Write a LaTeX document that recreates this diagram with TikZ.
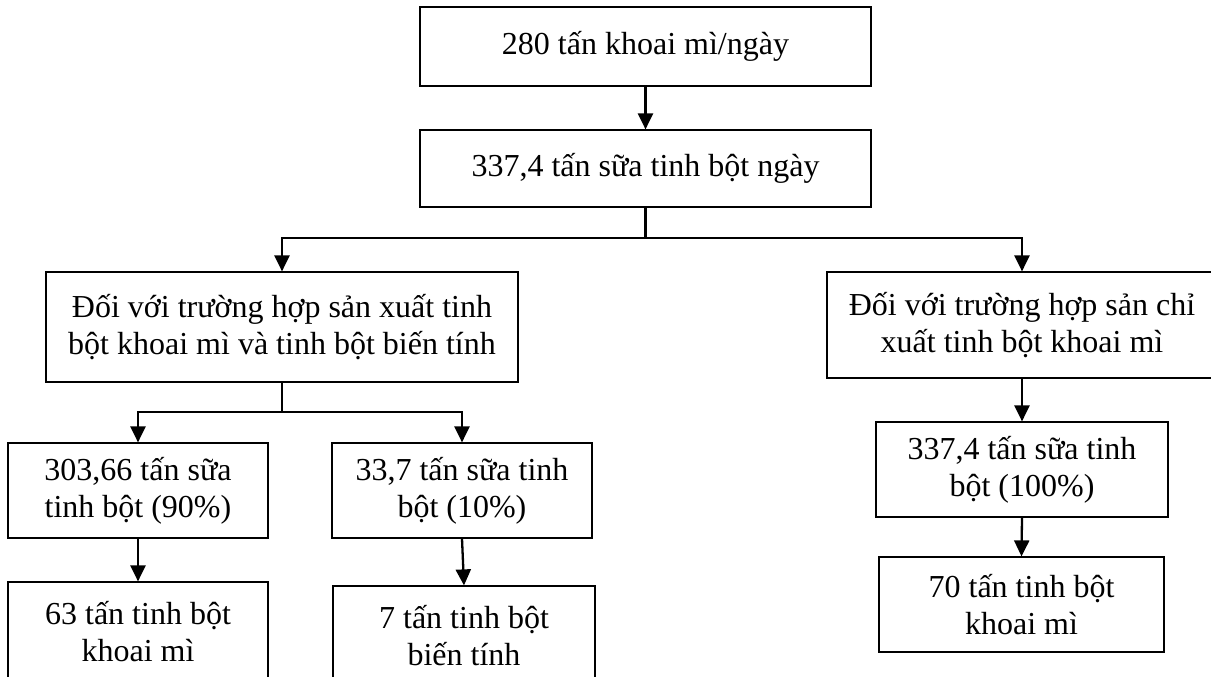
\documentclass[tikz,border=0pt]{standalone}
\usepackage{fontspec}
\setmainfont{Liberation Serif}
\usetikzlibrary{arrows.meta}
\tikzset{
  box/.style={draw=black, line width=1.2pt, rectangle, inner sep=0pt,
    align=center, font=\fontsize{32}{37}\selectfont, text=black},
  conn/.style={draw=black, line width=2.3pt},
  arr/.style={conn, -{Triangle[width=15pt,length=16pt]}},
}
\begin{document}
\begin{tikzpicture}[x=1pt, y=-1pt]
  \useasboundingbox (0,0) rectangle (1211,677);
  \fill[white] (0,0) rectangle (1211,677);
  \clip (0,0) rectangle (1211,677);

  % top chain
  \node[box, minimum width=451pt, minimum height=79pt] (b1) at (645.5,46.5) {280 tấn khoai mì/ngày};
  \node[box, minimum width=451pt, minimum height=77pt] (b2) at (645.5,168.5) {337,4 tấn sữa tinh bột ngày};

  % two production cases
  \node[box, minimum width=472pt, minimum height=110pt] (L) at (282,327)
    {Đối với trường hợp sản xuất tinh\\bột khoai mì và tinh bột biến tính};
  \node[box, minimum width=390pt, minimum height=106pt] (R) at (1022,325)
    {Đối với trường hợp sản chỉ\\xuất tinh bột khoai mì};

  % left case: split of the starch milk
  \node[box, minimum width=260pt, minimum height=95pt] (L1) at (138,490.5)
    {303,66 tấn sữa\\tinh bột (90\%)};
  \node[box, minimum width=260pt, minimum height=95pt] (L2) at (462,490.5)
    {33,7 tấn sữa tinh\\bột (10\%)};
  \node[box, minimum width=260pt, minimum height=100pt] (L3) at (138,632)
    {63 tấn tinh bột\\khoai mì};
  \node[box, minimum width=262pt, minimum height=100pt] (L4) at (464,636)
    {7 tấn tinh bột\\biến tính};

  % right case
  \node[box, minimum width=292pt, minimum height=95pt] (R1) at (1022,469.5)
    {337,4 tấn sữa tinh\\bột (100\%)};
  \node[box, minimum width=285pt, minimum height=95pt] (R2) at (1021.5,604.5)
    {70 tấn tinh bột\\khoai mì};

  % connectors
  \draw[arr] (b1.south) -- (b2.north);

  \coordinate (j1) at (645.5,238);
  \draw[conn] (b2.south) -- (j1);
  \draw[arr] (j1) -| (L.north);
  \draw[arr] (j1) -| (R.north);

  \coordinate (j2) at (282,412);
  \draw[conn] (L.south) -- (j2);
  \draw[arr] (j2) -| (L1.north);
  \draw[arr] (j2) -| (L2.north);

  \draw[arr] (L1.south) -- (L3.north);
  \draw[arr] (L2.south) -- (L4.north);

  \draw[arr] (R.south) -- (R1.north);
  \draw[arr] (R1.south) -- (R2.north);
\end{tikzpicture}
\end{document}
